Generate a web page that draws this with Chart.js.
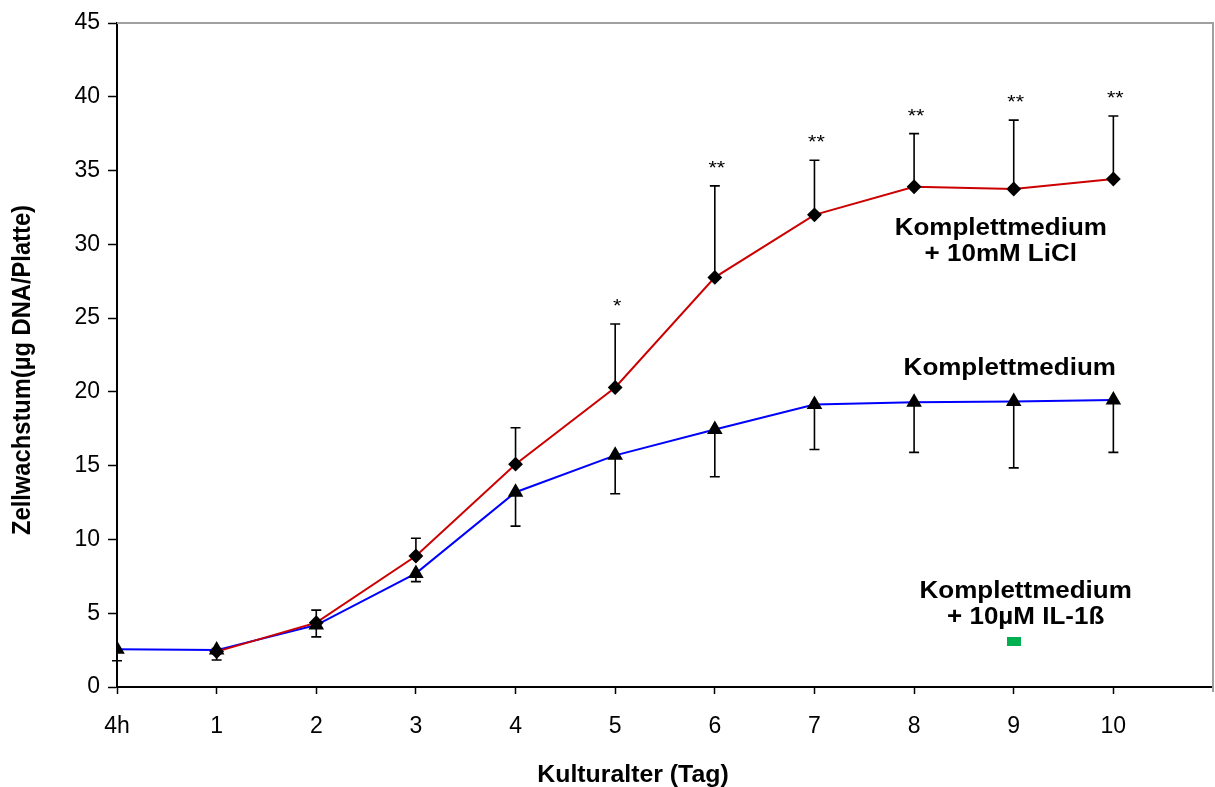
<!DOCTYPE html>
<html>
<head>
<meta charset="utf-8">
<script src="https://cdn.jsdelivr.net/npm/chart.js@4.4.1/dist/chart.umd.min.js"></script>
<style>
  html, body { margin: 0; padding: 0; background: #fff; }
</style>
</head>
<body>
<canvas id="c" width="1215" height="787"></canvas>
<script>
// culture age: 4h, then days 1..10
const dayLabels = ['4h', '1', '2', '3', '4', '5', '6', '7', '8', '9', '10'];
const dayPos = [0, 1, 2, 3, 4, 5, 6, 7, 8, 9, 10];

// Komplettmedium + 10mM LiCl (upper error bars only)
const liclMean = [null, 2.4, 4.36, 8.88, 15.1, 20.3, 27.76, 32.0, 33.9, 33.75, 34.43];
const liclErrUp = [null, 0.2, 0.85, 1.2, 2.47, 4.3, 6.2, 3.7, 3.6, 4.67, 4.27];
const liclStars = ['', '', '', '', '', '*', '**', '**', '**', '**', '**'];

// Komplettmedium (lower error bars only)
const baseMean = [2.55, 2.5, 4.2, 7.7, 13.2, 15.7, 17.45, 19.15, 19.3, 19.35, 19.45];
const baseErrDown = [0.77, 0.67, 0.8, 0.56, 2.3, 2.6, 3.2, 3.05, 3.4, 4.5, 3.55];

// Komplettmedium + 10µM IL-1ß, only one point
const il1Pos = [9];
const il1Mean = [3.08];

const yTicks = [0, 5, 10, 15, 20, 25, 30, 35, 40, 45];

// text labels next to the curves, anchored in data units
const curveLabels = [
  { lines: ['Komplettmedium', '+ 10mM LiCl'], x: 8.87, y: 31.05 },
  { lines: ['Komplettmedium'], x: 8.96, y: 21.55 },
  { lines: ['Komplettmedium', '+ 10µM IL-1ß'], x: 9.12, y: 6.45 }
];

const FONT = '"Liberation Sans", Arial, Helvetica, sans-serif';
const SX = 1.13; // the original graphic is a bit stretched sideways

function wideText(ctx, txt, x, y, sx) {
  ctx.save();
  ctx.translate(x, y);
  ctx.scale(sx, 1);
  ctx.fillText(txt, 0, 0);
  ctx.restore();
}

// green marker for the IL-1ß point
const greenMark = document.createElement('canvas');
greenMark.width = 14;
greenMark.height = 9;
const g = greenMark.getContext('2d');
g.fillStyle = '#00b050';
g.fillRect(0, 0, 14, 9);

const extras = {
  id: 'extras',
  beforeDatasetsDraw(chart) {
    const { ctx, scales: { x, y } } = chart;
    ctx.save();
    ctx.strokeStyle = '#000';
    ctx.lineWidth = 1.6;
    const bar = (px, y0, y1) => {
      ctx.beginPath();
      ctx.moveTo(px, y0);
      ctx.lineTo(px, y1);
      ctx.moveTo(px - 5, y1);
      ctx.lineTo(px + 5, y1);
      ctx.stroke();
    };
    liclMean.forEach((m, i) => {
      if (m == null) return;
      bar(x.getPixelForValue(dayPos[i]), y.getPixelForValue(m), y.getPixelForValue(m + liclErrUp[i]));
    });
    baseMean.forEach((m, i) => {
      bar(x.getPixelForValue(dayPos[i]), y.getPixelForValue(m), y.getPixelForValue(m - baseErrDown[i]));
    });
    ctx.restore();
  },
  afterDraw(chart) {
    const { ctx, chartArea: a, scales: { x, y } } = chart;
    ctx.save();
    // grey frame top and right
    ctx.strokeStyle = '#a0a0a0';
    ctx.lineWidth = 2;
    ctx.beginPath();
    ctx.moveTo(a.left, a.top);
    ctx.lineTo(a.right, a.top);
    ctx.lineTo(a.right, a.bottom + 5);
    ctx.stroke();

    // significance stars
    ctx.fillStyle = '#000';
    ctx.textAlign = 'center';
    ctx.textBaseline = 'middle';
    ctx.font = '19px ' + FONT;
    liclStars.forEach((s, i) => {
      if (!s) return;
      const px = x.getPixelForValue(dayPos[i]) + 2;
      const py = y.getPixelForValue(liclMean[i] + liclErrUp[i]) - 17;
      wideText(ctx, s, px, py, SX);
    });

    // curve labels
    ctx.font = 'bold 23px ' + FONT;
    curveLabels.forEach(l => {
      const px = x.getPixelForValue(l.x);
      const py = y.getPixelForValue(l.y);
      l.lines.forEach((t, k) => wideText(ctx, t, px, py + k * 26, SX));
    });

    // axis titles
    ctx.font = 'bold 23px ' + FONT;
    wideText(ctx, 'Kulturalter (Tag)', 633, 776, 1.08);

    ctx.save();
    ctx.translate(23, (a.top + a.bottom) / 2 + 15);
    ctx.rotate(-Math.PI / 2);
    ctx.font = 'bold 25px ' + FONT;
    const title = 'Zellwachstum(µg DNA/Platte)';
    const w = ctx.measureText(title).width;
    ctx.scale(330 / w, 1);
    ctx.fillText(title, 0, 0);
    ctx.restore();

    ctx.restore();
  }
};

Chart.defaults.font.family = FONT;
Chart.defaults.color = '#000';

new Chart(document.getElementById('c'), {
  type: 'line',
  data: {
    datasets: [
      {
        label: 'Komplettmedium + 10mM LiCl',
        data: dayPos.map((d, i) => ({ x: d, y: liclMean[i] })),
        borderColor: '#cc0000',
        borderWidth: 2,
        pointStyle: 'rectRot',
        pointRadius: 6,
        pointBackgroundColor: '#000',
        pointBorderColor: '#000',
        spanGaps: false
      },
      {
        label: 'Komplettmedium',
        data: dayPos.map((d, i) => ({ x: d, y: baseMean[i] })),
        borderColor: '#0000ff',
        borderWidth: 2,
        pointStyle: 'triangle',
        pointRadius: 7,
        pointBackgroundColor: '#000',
        pointBorderColor: '#000'
      },
      {
        label: 'Komplettmedium + 10µM IL-1ß',
        data: il1Pos.map((d, i) => ({ x: d, y: il1Mean[i] })),
        showLine: false,
        pointStyle: greenMark,
        pointRadius: 7
      }
    ]
  },
  options: {
    responsive: false,
    animation: false,
    devicePixelRatio: 1,
    layout: { autoPadding: false, padding: { top: 23, right: 2, left: 0, bottom: 0 } },
    plugins: {
      legend: { display: false },
      tooltip: { enabled: false }
    },
    scales: {
      x: {
        type: 'linear',
        min: 0,
        max: 11,
        afterBuildTicks: (s) => { s.ticks = dayPos.map(v => ({ value: v })); },
        afterFit: (s) => { s.height = 100; s.paddingRight = 0; s.paddingLeft = 0; },
        ticks: {
          callback: (v) => dayLabels[v],
          font: { size: 23 },
          color: '#000',
          padding: 19,
          maxRotation: 0,
          autoSkip: false
        },
        grid: { drawOnChartArea: false, tickLength: 7, tickColor: '#000', tickWidth: 1.5 },
        border: { color: '#000', width: 2 }
      },
      y: {
        min: 0,
        max: 45,
        afterBuildTicks: (s) => { s.ticks = yTicks.map(v => ({ value: v })); },
        afterFit: (s) => { s.width = 117; },
        ticks: {
          font: { size: 23 },
          color: '#000',
          padding: 8
        },
        grid: { drawOnChartArea: false, tickLength: 9, tickColor: '#000', tickWidth: 1.5 },
        border: { color: '#000', width: 2 }
      }
    }
  },
  plugins: [extras]
});
</script>
</body>
</html>
